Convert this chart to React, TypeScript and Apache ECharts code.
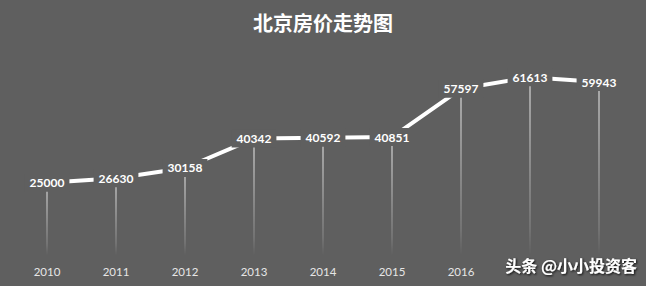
import React, { useEffect, useRef } from "react";
import * as echarts from "echarts";

const years = ["2010", "2011", "2012", "2013", "2014", "2015", "2016", "2017", "2018"];
const prices = [25000, 26630, 30158, 40342, 40592, 40851, 57597, 61613, 59943];
const hiddenYears = ["2017", "2018"];
const titleText = "北京房价走势图";
const watermark = "头条 @小小投资客";
const BG = "#5f5f5f";

export default function App() {
  const ref = useRef<HTMLDivElement>(null);
  useEffect(() => {
    if (!ref.current) return;
    const chart = echarts.init(ref.current, null, { renderer: "svg" });
    chart.setOption({
      animation: false,
      backgroundColor: BG,
      title: {
        text: titleText,
        left: "center",
        top: 7,
        textStyle: { color: "#ffffff", fontSize: 20, fontWeight: "bold", fontFamily: "Noto Sans CJK SC" },
      },
      grid: { left: 12.5, right: 12.5, top: 53, bottom: 31 },
      xAxis: {
        type: "category",
        data: years,
        axisLine: { show: false },
        axisTick: { show: false },
        axisLabel: {
          color: "#e6e6e6",
          fontSize: 11.5,
          fontFamily: "Lato",
          margin: 10,
          interval: (_i: number, v: string) => hiddenYears.indexOf(v) < 0,
        },
      },
      yAxis: {
        type: "value",
        min: 0,
        max: 70000,
        show: false,
        splitLine: { show: false },
      },
      series: [
        {
          type: "bar",
          data: prices,
          barWidth: 1,
          silent: true,
          itemStyle: {
            color: new echarts.graphic.LinearGradient(0, 0, 0, 1, [
              { offset: 0, color: "rgba(255,255,255,0.95)" },
              { offset: 0.85, color: "rgba(255,255,255,0.25)" },
              { offset: 1, color: "rgba(255,255,255,0)" },
            ]),
          },
          z: 1,
        },
        {
          type: "line",
          data: prices,
          symbol: "circle",
          symbolSize: 2,
          showSymbol: true,
          itemStyle: { color: "rgba(255,255,255,0)" },
          lineStyle: { color: "#ffffff", width: 4 },
          z: 2,
          label: {
            show: true,
            position: "inside",
            color: "#ffffff",
            fontSize: 12,
            fontWeight: "bold",
            fontFamily: "Lato",
            backgroundColor: BG,
            padding: [3, 5],
          },
        },
      ],
      graphic: [
        {
          type: "text",
          right: 9,
          top: 257,
          z: 100,
          style: {
            text: watermark,
            fill: "#ffffff",
            fontSize: 16,
            fontFamily: "Noto Sans CJK SC",
            fontWeight: "bold",
            textShadowColor: "rgba(0,0,0,0.9)",
            textShadowBlur: 2,
            textShadowOffsetX: 1,
            textShadowOffsetY: 1,
          },
        },
      ],
    });
    return () => chart.dispose();
  }, []);
  return <div ref={ref} style={{ width: 646, height: 286, position: "absolute", left: 0, top: 0 }} />;
}
